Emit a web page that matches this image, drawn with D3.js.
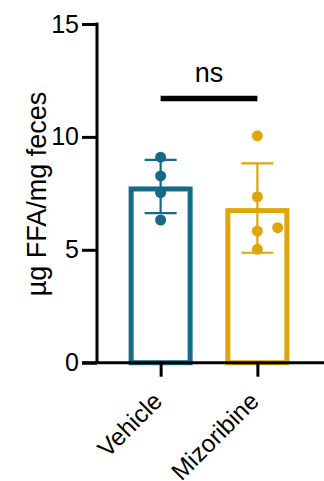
<!DOCTYPE html>
<html>
<head>
<meta charset="utf-8">
<script src="https://cdn.jsdelivr.net/npm/d3@7"></script>
<style>
  body { margin: 0; background: #fff; }
  svg { display: block; font-family: "Liberation Sans", Arial, sans-serif; }
</style>
</head>
<body>
<div id="chart"></div>
<script>
// data
const groups = ["Vehicle", "Mizoribine"];
const colors = ["#156a88", "#dea60b"];
const vehiclePts = [9.10, 8.27, 7.53, 6.32];
const mizoribinePts = [10.05, 7.35, 5.83, 5.98, 5.02];
// horizontal scatter of the dots, in fractions of a category step
const vehicleJitter = [0, 0, 0, 0];
const mizoribineJitter = [0, 0, 0, 0.21, 0];
const yTicks = [0, 5, 10, 15];
const sigLabel = "ns";
const sigLevel = 11.7;

const width = 324, height = 481;
const points = [vehiclePts, mizoribinePts];
const jitter = [vehicleJitter, mizoribineJitter];

const svg = d3.select("#chart").append("svg")
    .attr("width", width).attr("height", height);

const y = d3.scaleLinear().domain([0, 15]).range([362.7, 24]);
const x = d3.scalePoint().domain(groups).range([96, 322]).padding(0.668);
const step = x.step();
const barW = 64, sw = 5;

// bars (outlined, open)
groups.forEach((g, i) => {
    const m = d3.mean(points[i]);
    svg.append("rect")
        .attr("x", x(g) - barW / 2 + sw / 2)
        .attr("y", y(m) + sw / 2)
        .attr("width", barW - sw)
        .attr("height", y(0) - y(m) - sw / 2)
        .attr("fill", "none")
        .attr("stroke", colors[i])
        .attr("stroke-width", sw);
});

// error bars (mean +/- SD)
groups.forEach((g, i) => {
    const m = d3.mean(points[i]);
    const sd = d3.deviation(points[i]);
    const eb = svg.append("g").attr("stroke", colors[i]).attr("stroke-width", 2.2);
    eb.append("line").attr("x1", x(g)).attr("x2", x(g)).attr("y1", y(m + sd)).attr("y2", y(m - sd));
    [m + sd, m - sd].forEach(v => {
        eb.append("line").attr("x1", x(g) - 16).attr("x2", x(g) + 16).attr("y1", y(v)).attr("y2", y(v));
    });
});

// individual points
groups.forEach((g, i) => {
    svg.append("g").selectAll("circle")
        .data(points[i])
        .join("circle")
        .attr("cx", (d, j) => x(g) + jitter[i][j] * step)
        .attr("cy", d => y(d))
        .attr("r", 5.5)
        .attr("fill", colors[i]);
});

// axes
const yAxis = svg.append("g")
    .attr("transform", "translate(97,0)")
    .call(d3.axisLeft(y).tickValues(yTicks).tickSize(15).tickPadding(3));
yAxis.select(".domain").remove();
yAxis.append("line").attr("x1", 0).attr("x2", 0).attr("y1", y(15) - 1.5).attr("y2", y(0))
    .attr("stroke", "#000").attr("stroke-width", 3);
yAxis.selectAll(".tick line").attr("stroke-width", 3).attr("x1", 0);
yAxis.selectAll(".tick text").attr("font-size", 25).attr("fill", "#000")
    .attr("font-family", "Liberation Sans, Arial, sans-serif");

const xAxis = svg.append("g")
    .attr("transform", `translate(0,${y(0)})`)
    .call(d3.axisBottom(x).tickSize(14).tickFormat(""));
xAxis.select(".domain").remove();
xAxis.append("line").attr("x1", 82).attr("x2", 324).attr("y1", 0).attr("y2", 0)
    .attr("stroke", "#000").attr("stroke-width", 3);
xAxis.selectAll(".tick line").attr("stroke-width", 3);

svg.append("g").selectAll("text")
    .data(groups)
    .join("text")
    .attr("transform", d => `translate(${x(d) + 3},${y(0) + 40}) rotate(-45)`)
    .attr("text-anchor", "end")
    .attr("font-size", 24.5)
    .text(d => d);

// y title
svg.append("text")
    .attr("transform", `translate(46,194) rotate(-90)`)
    .attr("text-anchor", "middle")
    .attr("font-size", 27)
    .text("µg FFA/mg feces");

// significance bar
svg.append("line")
    .attr("x1", x(groups[0])).attr("x2", x(groups[1]))
    .attr("y1", y(sigLevel)).attr("y2", y(sigLevel))
    .attr("stroke", "#000").attr("stroke-width", 5.5);
svg.append("text")
    .attr("x", (x(groups[0]) + x(groups[1])) / 2)
    .attr("y", y(sigLevel) - 17)
    .attr("text-anchor", "middle")
    .attr("font-size", 27)
    .text(sigLabel);
</script>
</body>
</html>
